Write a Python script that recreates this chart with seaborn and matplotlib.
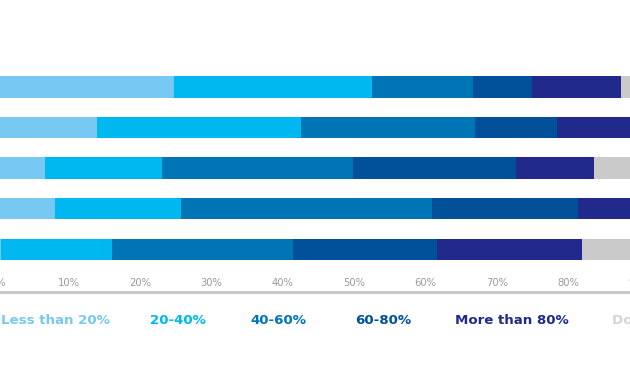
import numpy as np
import pandas as pd
import seaborn as sns
import matplotlib.pyplot as plt

# Rows of the chart (their names are cut off in the reference)
categories = ["Row 1", "Row 2", "Row 3", "Row 4", "Row 5"]

# Share of respondents per band, in percent
less_than_20 = [24.7, 13.9, 6.6, 8.0, 0.4]
from_20_to_40 = [27.8, 28.7, 16.5, 17.7, 15.6]
from_40_to_60 = [14.1, 24.4, 26.7, 35.2, 25.4]
from_60_to_80 = [8.3, 11.4, 22.9, 20.5, 20.2]
more_than_80 = [12.5, 19.6, 10.9, 16.6, 20.3]
dont_know = [12.6, 2.0, 16.4, 2.0, 18.1]

band_labels = ["Less than 20%", "20-40%", "40-60%", "60-80%", "More than 80%", "Don't know"]
band_colors = ["#77c8f2", "#00b8f0", "#0075b6", "#00519a", "#21298d", "#cacaca"]
text_colors = ["#77c8f2", "#00b8f0", "#0075b6", "#00519a", "#21298d", "#d4d4d4"]

tick_values = list(range(0, 101, 10))
tick_labels = [f"{v}%" for v in tick_values]

sns.set_theme(style="white")
plt.rcParams["font.family"] = ["DejaVu Sans"]

df = pd.DataFrame({
    "category": categories,
    band_labels[0]: less_than_20,
    band_labels[1]: from_20_to_40,
    band_labels[2]: from_40_to_60,
    band_labels[3]: from_60_to_80,
    band_labels[4]: more_than_80,
    band_labels[5]: dont_know,
})
cum = df[band_labels].cumsum(axis=1)

fig = plt.figure(figsize=(6.3, 3.8), dpi=100)
# the reference is a crop of a wider chart: 0% sits just left of the edge
ax = fig.add_axes([-2.3 / 630, 88 / 380, 713 / 630, 252 / 380])

# stacked bars: draw cumulative totals from the last band back to the first
for label, color in zip(reversed(band_labels), reversed(band_colors)):
    sns.barplot(x=cum[label], y=df["category"], color=color, orient="h",
                width=0.52, saturation=1, linewidth=0, ax=ax)

ax.set_xlim(0, 100)
ax.set_ylim(5.06, -1.16)
ax.set_xticks(tick_values)
ax.set_xticklabels(tick_labels)
ax.set_yticks([])
ax.set_xlabel("")
ax.set_ylabel("")
ax.tick_params(axis="x", length=0, pad=-9.8, labelsize=7.2, labelcolor="#9a9a9a")

for side in ["top", "right", "left"]:
    ax.spines[side].set_visible(False)
ax.spines["bottom"].set_color("#c6c6c6")
ax.spines["bottom"].set_linewidth(2)

# legend is coloured text only
legend_x = [1, 150, 250, 355, 455, 612]
for x, label, color in zip(legend_x, band_labels, text_colors):
    fig.text(x / 630, 60 / 380, label, color=color, fontsize=9.6,
             fontweight="bold", ha="left", va="center")

fig.savefig("out.png", dpi=100)
